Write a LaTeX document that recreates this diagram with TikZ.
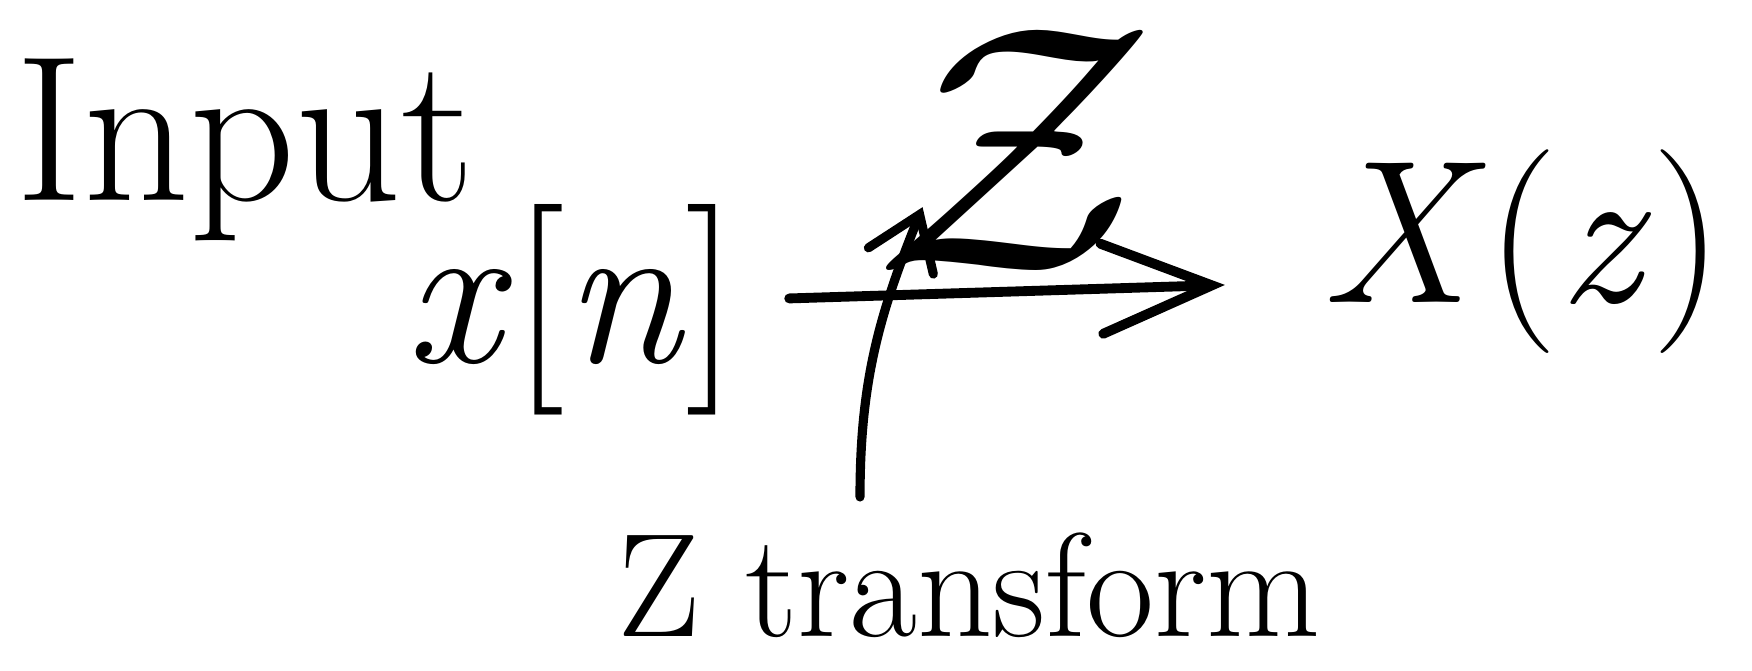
\documentclass[tikz,border=0pt]{standalone}
\usepackage{fontspec}
\usepackage{tikz}
\usetikzlibrary{arrows.meta,positioning,calc}
\definecolor{inkdark}{RGB}{0, 0, 0}
\tikzset{
  lbl/.style={inner sep=0pt,text=inkdark},
  arr/.style={-{Straight Barb[length=11mm,width=9mm,line cap=round]},
              line width=2.8pt,line cap=round,draw=inkdark},
  ptr/.style={-{Straight Barb[length=5mm,width=7mm,line cap=round]},
              line width=2.6pt,line cap=round,draw=inkdark},
}

\begin{document}
\begin{tikzpicture}[x=0.01cm,y=-0.01cm]
        \useasboundingbox (0,0) rectangle (1752,671);
        \node[lbl,font=\fontsize{59}{62}\selectfont] (inp) at (245,150) {Input};
        \node[lbl,font=\fontsize{60}{64}\selectfont] (xn) at (572,310) {\textit{x}[\textit{n}]};
        \node[lbl,font=\fontsize{58}{62}\selectfont] (Xz) at (1522,252) {\textit{X}(\textit{z})};
        \node[lbl,scale=10] (zsym) at (1015,150) {$\mathcal{Z}$};
        \node[lbl,font=\fontsize{42}{46}\selectfont] (ztr) at (969,585) {Z transform};
        \coordinate (ptrfoot) at (860,497);
        \draw[arr,shorten <=0.5cm,shorten >=0.95cm]
             ([yshift=0.1cm]xn.east) -- ([yshift=-0.3cm]Xz.west);
        \draw[ptr] (ptrfoot) to[out=90,in=-112]
             ($(zsym.south west)+(56,-70)$);
      \end{tikzpicture}
\end{document}
